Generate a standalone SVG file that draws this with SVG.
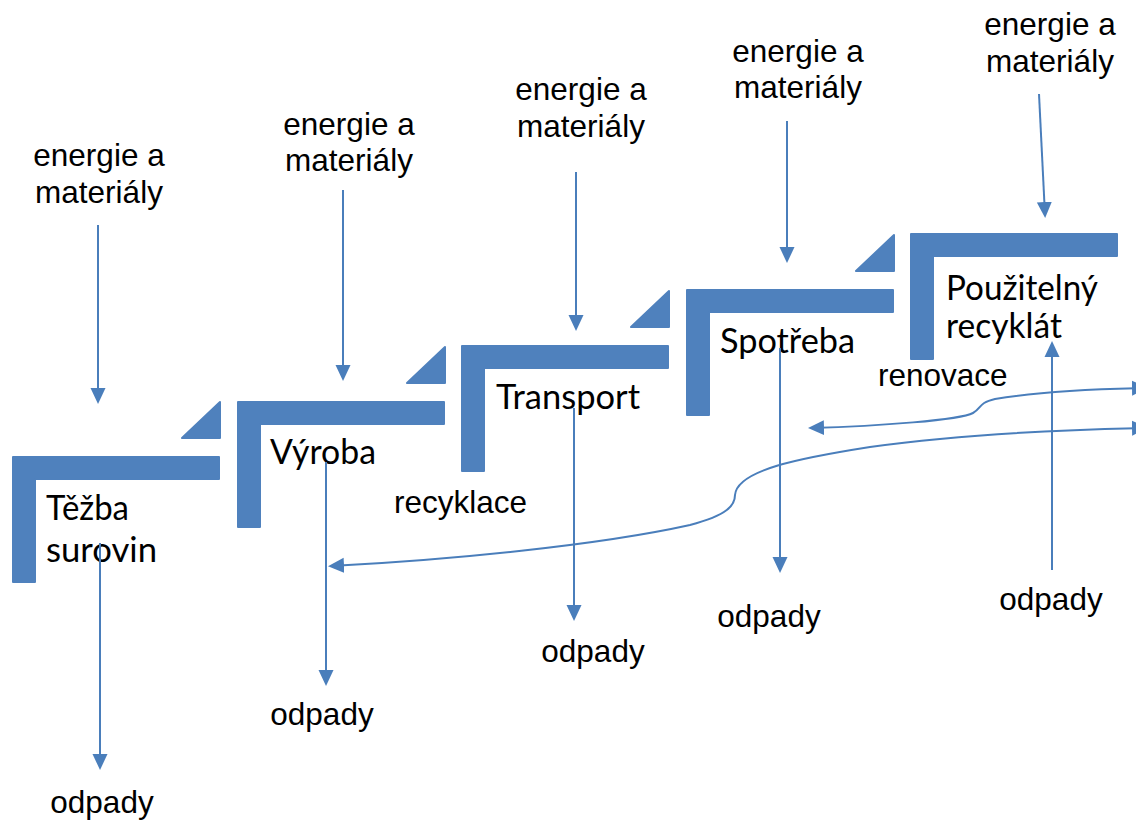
<svg xmlns="http://www.w3.org/2000/svg" xmlns:xlink="http://www.w3.org/1999/xlink" width="1136" height="821" viewBox="0 0 1136 821">
<style>
.bar{fill:#4F81BD;stroke:#4F81BD;stroke-width:2;stroke-linejoin:round}
.lbl{font-family:"Liberation Sans",Arial,sans-serif;font-size:31.5px;fill:#000}
.ttl{font-family:Lato,"Noto Sans",sans-serif;font-size:34px;fill:#000}
.c{text-anchor:middle}
.ln{fill:none;stroke:#4A7EBB;stroke-width:2}
.ah{marker-end:url(#arr)}
.ah2{marker-start:url(#arr);marker-end:url(#arr)}
</style>
<defs>
<marker id="arr" markerUnits="userSpaceOnUse" viewBox="0 0 16 16" markerWidth="16" markerHeight="16" refX="13" refY="8" orient="auto-start-reverse">
<path d="M0,0.5 L16,8 L0,15.5 Z" fill="#4A7EBB"/>
</marker>
<path id="step" d="M1,1 H207 V23 H23 V126 H1 Z"/>
<path id="tri" d="M170,-18 H208 V-54 Z"/>
</defs>
<rect width="1136" height="821" fill="#fff"/>

<g id="tezba">
<use href="#step" class="bar" x="12" y="456"/>
<use href="#tri" class="bar" x="12" y="456"/>
<text class="ttl" x="46" y="520" textLength="83" lengthAdjust="spacingAndGlyphs">Těžba</text>
<text class="ttl" x="46" y="562" textLength="111" lengthAdjust="spacingAndGlyphs">surovin</text>
</g>
<g id="vyroba">
<use href="#step" class="bar" x="237" y="401"/>
<use href="#tri" class="bar" x="237" y="401"/>
<text class="ttl" x="270" y="464" textLength="106" lengthAdjust="spacingAndGlyphs">Výroba</text>
</g>
<g id="transport">
<use href="#step" class="bar" x="461" y="345"/>
<use href="#tri" class="bar" x="461" y="345"/>
<text class="ttl" x="496" y="409" textLength="144" lengthAdjust="spacingAndGlyphs">Transport</text>
</g>
<g id="spotreba">
<use href="#step" class="bar" x="686" y="289"/>
<use href="#tri" class="bar" x="686" y="289"/>
<text class="ttl" x="720" y="353" textLength="135" lengthAdjust="spacingAndGlyphs">Spotřeba</text>
</g>
<g id="recyklat">
<use href="#step" class="bar" x="910" y="233"/>
<text class="ttl" x="946" y="300" textLength="152" lengthAdjust="spacingAndGlyphs">Použitelný</text>
<text class="ttl" x="946" y="338" textLength="116" lengthAdjust="spacingAndGlyphs">recyklát</text>
</g>

<g id="labels">
<text class="lbl c" x="99" y="166">energie a<tspan x="99" y="203">materiály</tspan></text>
<text class="lbl c" x="349" y="135">energie a<tspan x="349" y="171">materiály</tspan></text>
<text class="lbl c" x="581" y="100">energie a<tspan x="581" y="137">materiály</tspan></text>
<text class="lbl c" x="798" y="62">energie a<tspan x="798" y="98">materiály</tspan></text>
<text class="lbl c" x="1050" y="35">energie a<tspan x="1050" y="72">materiály</tspan></text>
<text class="lbl c" x="102" y="813">odpady</text>
<text class="lbl c" x="322" y="725">odpady</text>
<text class="lbl c" x="593" y="662">odpady</text>
<text class="lbl c" x="769" y="627">odpady</text>
<text class="lbl c" x="1051" y="610">odpady</text>
<text class="lbl" x="394" y="513">recyklace</text>
<text class="lbl" x="878" y="386">renovace</text>
</g>

<g id="connectors">
<line class="ln ah" x1="98" y1="225" x2="98" y2="401"/>
<line class="ln ah" x1="343" y1="190" x2="343" y2="378"/>
<line class="ln ah" x1="576" y1="172" x2="576" y2="328"/>
<line class="ln ah" x1="787" y1="121" x2="787" y2="260"/>
<line class="ln ah" x1="1039" y1="94" x2="1045" y2="215"/>
<line class="ln ah" x1="100" y1="543" x2="100" y2="767"/>
<line class="ln ah" x1="326" y1="462" x2="326" y2="683"/>
<line class="ln ah" x1="574" y1="408" x2="574" y2="618"/>
<line class="ln ah" x1="780" y1="348" x2="780" y2="570"/>
<line class="ln ah" x1="1052" y1="570" x2="1052" y2="344"/>
<path class="ln ah2" d="M811,428 C880,426 960,420 973,413 C982,408 978,403 995,399 C1030,393 1090,389 1145,388"/>
<path class="ln ah2" d="M331,566 C450,560 600,545 690,525 C728,515 735,505 735,495 C737,470 800,458 870,447 C950,436 1050,430 1145,428"/>
</g>
</svg>
